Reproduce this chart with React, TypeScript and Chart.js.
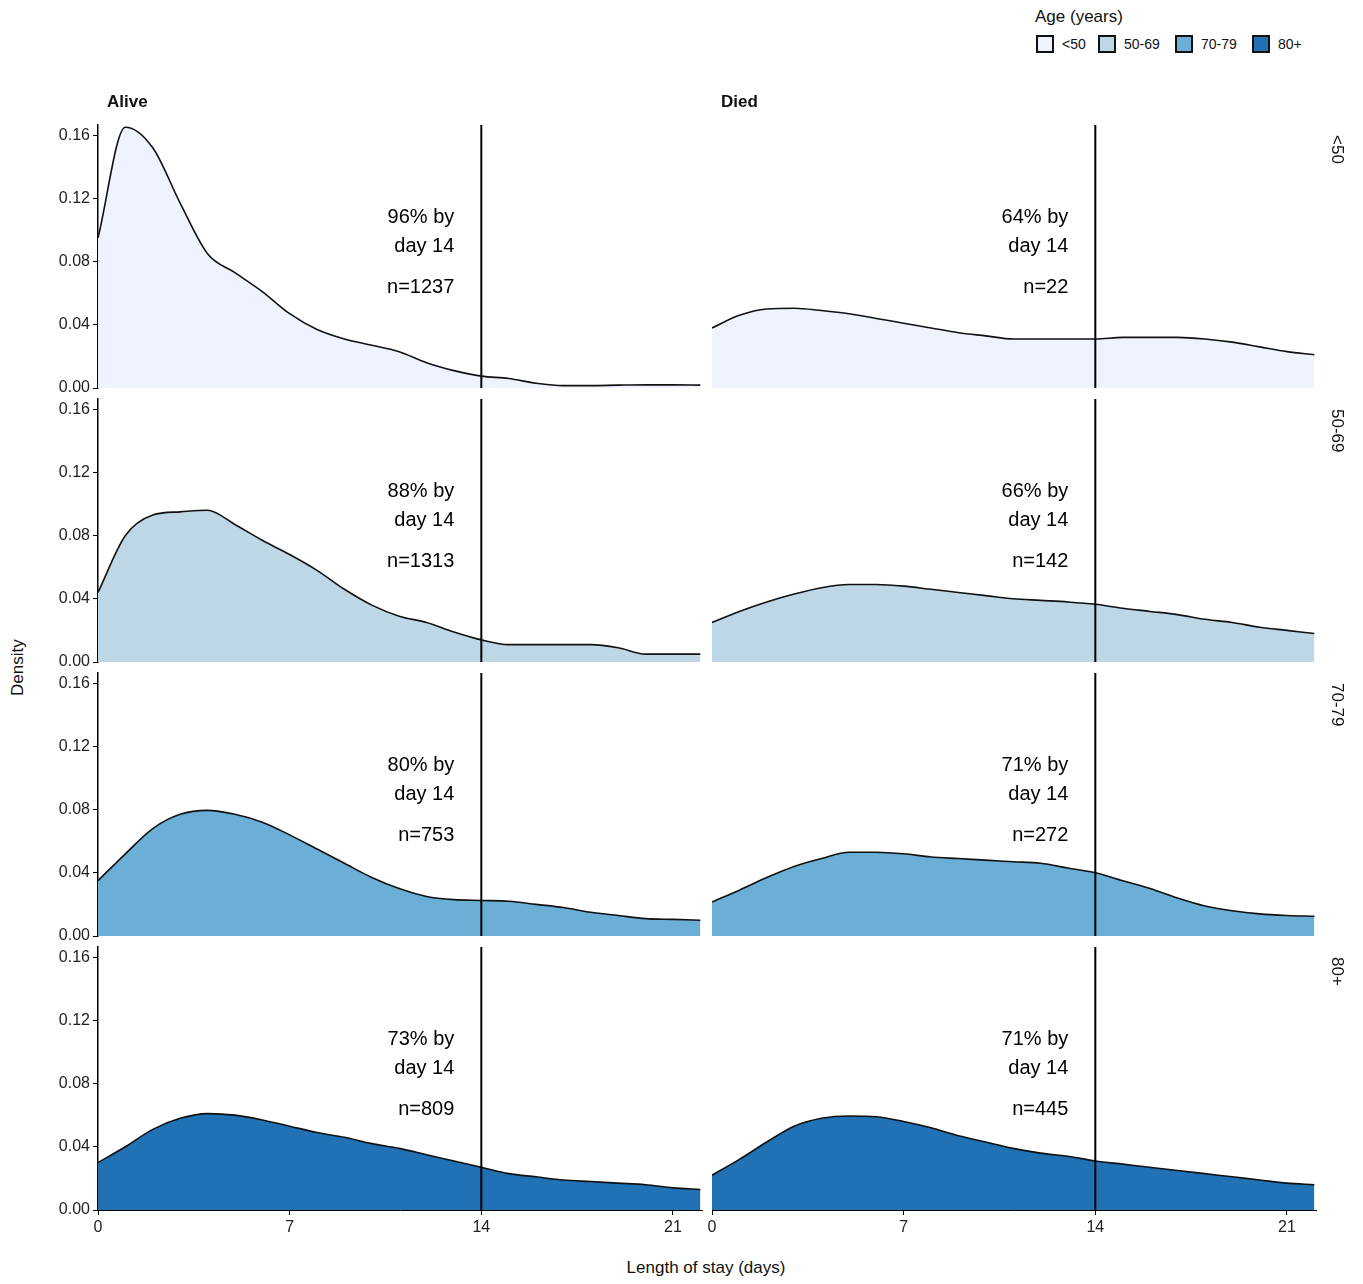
import React, { useEffect, useRef } from "react";
import { Chart, registerables } from "chart.js";
Chart.register(...registerables);

const days = [0,1,2,3,4,5,6,7,8,9,10,11,12,13,14,15,16,17,18,19,20,21,22];
const ageGroups = ["<50", "50-69", "70-79", "80+"];
const colors = ["#eff3ff", "#bdd7e7", "#6baed6", "#2171b5"];
const outcomes = ["Alive", "Died"];

const alive50 = [0.095,0.165,0.152,0.117,0.085,0.073,0.061,0.047,0.037,0.031,0.027,0.023,0.016,0.011,0.0075,0.006,0.003,0.0015,0.0015,0.0018,0.002,0.002,0.0018];
const died50 = [0.038,0.046,0.050,0.0505,0.049,0.047,0.044,0.041,0.038,0.035,0.033,0.031,0.031,0.031,0.031,0.032,0.032,0.032,0.031,0.029,0.026,0.023,0.021];
const alive5069 = [0.044,0.080,0.093,0.095,0.096,0.087,0.077,0.068,0.058,0.046,0.036,0.029,0.025,0.019,0.014,0.011,0.011,0.011,0.011,0.009,0.005,0.005,0.005];
const died5069 = [0.025,0.032,0.038,0.043,0.047,0.049,0.049,0.048,0.046,0.044,0.042,0.040,0.039,0.038,0.0365,0.034,0.032,0.03,0.027,0.025,0.022,0.02,0.018];
const alive7079 = [0.035,0.052,0.068,0.077,0.0795,0.077,0.072,0.064,0.055,0.046,0.037,0.030,0.025,0.023,0.0225,0.022,0.020,0.018,0.015,0.013,0.011,0.0105,0.010];
const died7079 = [0.0215,0.029,0.037,0.044,0.049,0.053,0.053,0.052,0.050,0.049,0.048,0.047,0.046,0.043,0.040,0.035,0.030,0.024,0.019,0.016,0.014,0.013,0.0125];
const alive80 = [0.030,0.040,0.051,0.058,0.061,0.060,0.057,0.053,0.049,0.046,0.042,0.039,0.035,0.031,0.027,0.023,0.021,0.019,0.018,0.017,0.016,0.014,0.013];
const died80 = [0.022,0.032,0.043,0.053,0.058,0.0595,0.059,0.056,0.052,0.047,0.043,0.039,0.036,0.034,0.031,0.029,0.027,0.025,0.023,0.021,0.019,0.017,0.016];

const series = [[alive50, died50],[alive5069, died5069],[alive7079, died7079],[alive80, died80]];
const pctLabels = [["96%","64%"],["88%","66%"],["80%","71%"],["73%","71%"]];
const nLabels = [["n=1237","n=22"],["n=1313","n=142"],["n=753","n=272"],["n=809","n=445"]];
const xTicks = [0, 7, 14, 21];
const yTicks = [0, 0.04, 0.08, 0.12, 0.16];

const FONT = "'Liberation Sans', Arial, sans-serif";
const rowTops = [125, 399, 673, 947];
const plotH = 263;
const plotW = 604;
const colLefts = [98, 712];
const PADT = 18, PADB = 18;

function Panel({ row, col }: { row: number; col: number }) {
  const ref = useRef<HTMLCanvasElement>(null);
  const bottom = row === 3;
  const axW = col === 0 ? 60 : 20;
  const axH = bottom ? 30 : 0;
  const left = colLefts[col] - axW;
  const top = rowTops[row] - PADT;
  const w = plotW + axW + 12;
  const h = plotH + PADT + (bottom ? axH : PADB);
  useEffect(() => {
    const vals = series[row][col];
    const annot = {
      id: "annot",
      afterDatasetsDraw(chart: any) {
        const { ctx, chartArea, scales } = chart;
        const x14 = scales.x.getPixelForValue(14);
        ctx.save();
        ctx.strokeStyle = "#000";
        ctx.lineWidth = 2;
        ctx.beginPath();
        ctx.moveTo(x14, chartArea.top);
        ctx.lineTo(x14, chartArea.bottom);
        ctx.stroke();
        ctx.fillStyle = "#000";
        ctx.font = `20px ${FONT}`;
        ctx.textAlign = "right";
        ctx.textBaseline = "middle";
        const tx = x14 - 27;
        ctx.fillText(`${pctLabels[row][col]} by`, tx, chartArea.top + 92);
        ctx.fillText("day 14", tx, chartArea.top + 121);
        ctx.fillText(nLabels[row][col], tx, chartArea.top + 162);
        ctx.restore();
      },
    };
    const chart = new Chart(ref.current!, {
      type: "line",
      data: {
        datasets: [{
          data: days.map((d, i) => ({ x: d, y: vals[i] })),
          backgroundColor: colors[row],
          borderColor: "#111",
          borderWidth: 1.6,
          fill: "origin",
          pointRadius: 0,
          cubicInterpolationMode: "monotone",
        }],
      },
      options: {
        animation: false,
        responsive: false,
        layout: { padding: { top: PADT, bottom: bottom ? 0 : PADB, left: 0, right: 12 } },
        plugins: { legend: { display: false }, tooltip: { enabled: false } },
        scales: {
          x: {
            type: "linear", min: 0, max: 22.06,
            display: bottom,
            afterBuildTicks: (s: any) => { s.ticks = xTicks.map((v) => ({ value: v })); },
            afterFit: (s: any) => { s.height = axH; },
            grid: { drawOnChartArea: false, drawTicks: true, tickLength: 5, color: "#000" },
            border: { color: "#000", width: 1 },
            ticks: { color: "#222", font: { size: 16, family: FONT }, padding: 3, maxRotation: 0 },
          },
          y: {
            min: 0, max: 0.1664,
            display: true,
            afterBuildTicks: (s: any) => { s.ticks = yTicks.map((v) => ({ value: v })); },
            afterFit: (s: any) => { s.width = axW; },
            grid: { display: col === 0, drawOnChartArea: false, drawTicks: true, tickLength: 5, color: "#000" },
            border: { display: col === 0, color: "#000", width: 1.5 },
            ticks: { display: col === 0, color: "#222", font: { size: 16, family: FONT }, padding: 3, callback: (v: any) => Number(v).toFixed(2) },
          },
        },
      },
      plugins: [annot],
    } as any);
    return () => chart.destroy();
  }, []);
  return <canvas ref={ref} width={w} height={h} style={{ position: "absolute", left, top, width: w, height: h }} />;
}

export default function App() {
  const legendX = [1036, 1098, 1175, 1252];
  return (
    <div style={{ position: "relative", width: 1363, height: 1284, fontFamily: FONT, color: "#111", background: "#fff", margin: -8 }}>
      {ageGroups.map((_, r) => outcomes.map((_, c) => <Panel key={`${r}-${c}`} row={r} col={c} />))}
      {outcomes.map((o, c) => (
        <div key={o} style={{ position: "absolute", left: colLefts[c] + 9, top: 92, fontSize: 17, fontWeight: "bold" }}>{o}</div>
      ))}
      {ageGroups.map((a, r) => (
        <div key={a} style={{ position: "absolute", left: 1325, top: rowTops[r] + 10, fontSize: 17, transform: "rotate(90deg)", transformOrigin: "left top", marginLeft: 22, whiteSpace: "nowrap" }}>{a}</div>
      ))}
      <div style={{ position: "absolute", left: 0, top: 668, fontSize: 17, transform: "rotate(-90deg)", transformOrigin: "center", width: 36, textAlign: "center", marginLeft: 0 }}>Density</div>
      <div style={{ position: "absolute", left: 0, width: 1412, top: 1258, fontSize: 17, textAlign: "center" }}>Length of stay (days)</div>
      <div style={{ position: "absolute", left: 1035, top: 7, fontSize: 17 }}>Age (years)</div>
      {ageGroups.map((a, i) => (
        <div key={a} style={{ position: "absolute", left: legendX[i], top: 35, display: "flex", alignItems: "center", fontSize: 14 }}>
          <span style={{ display: "inline-block", width: 14, height: 14, background: colors[i], border: "2px solid #111", marginRight: 8 }} />
          {a}
        </div>
      ))}
    </div>
  );
}
